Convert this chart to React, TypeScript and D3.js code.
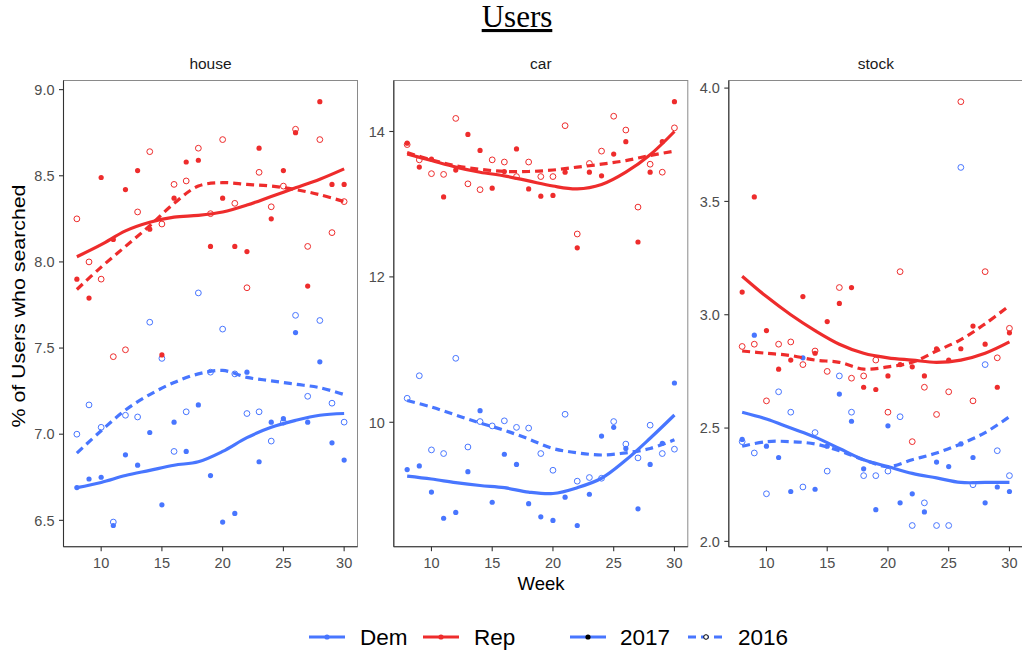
import React from "react";
import * as d3 from "d3";

// ---------- data ----------
const weeks = [8, 9, 10, 11, 12, 13, 14, 15, 16, 17, 18, 19, 20, 21, 22, 23, 24, 25, 26, 27, 28, 29, 30];
const smoothWeeks = [8, 10, 12, 14, 16, 18, 20, 22, 24, 26, 28, 30];
const xTicks = [10, 15, 20, 25, 30];

// house
const houseRep2017 = [7.90, 7.79, 8.49, 8.13, 8.42, 8.53, 8.19, 7.46, 8.37, 8.58, 8.59, 8.09, 8.37, 8.09, 8.06, 8.66, 8.25, 8.53, 8.75, 7.86, 8.93, 8.45, 8.45];
const houseRep2016 = [8.25, 8.00, 7.90, 7.45, 7.49, 8.29, 8.64, 8.22, 8.45, 8.47, 8.66, 8.28, 8.71, 8.34, 7.85, 8.52, 8.32, 8.44, 8.77, 8.09, 8.71, 8.17, 8.35];
const houseDem2017 = [6.69, 6.74, 6.75, 6.47, 6.88, 6.82, 7.01, 6.59, 7.07, 6.90, 7.17, 6.76, 6.49, 6.54, 7.36, 6.84, 7.07, 7.09, 7.59, 7.07, 7.42, 6.95, 6.85];
const houseDem2016 = [7.00, 7.17, 7.04, 6.49, 7.11, 7.10, 7.65, 7.44, 6.90, 7.13, 7.82, 7.36, 7.61, 7.35, 7.12, 7.13, 6.96, 7.07, 7.69, 7.22, 7.66, 7.18, 7.07];
const houseRep2017Smooth = [8.03, 8.10, 8.18, 8.23, 8.26, 8.27, 8.29, 8.33, 8.38, 8.43, 8.48, 8.54];
const houseRep2016Smooth = [7.84, 7.97, 8.09, 8.21, 8.34, 8.44, 8.46, 8.45, 8.44, 8.42, 8.39, 8.35];
const houseDem2017Smooth = [6.69, 6.72, 6.76, 6.79, 6.82, 6.84, 6.90, 6.98, 7.04, 7.08, 7.11, 7.12];
const houseDem2016Smooth = [6.89, 7.02, 7.14, 7.23, 7.30, 7.35, 7.37, 7.33, 7.31, 7.29, 7.27, 7.23];
const houseTicks = [6.5, 7.0, 7.5, 8.0, 8.5, 9.0];

// car
const carRep2017 = [13.84, 13.51, 13.62, 13.10, 13.47, 13.96, 13.74, 13.22, 13.45, 13.76, 13.21, 13.11, 13.12, 13.44, 12.40, 13.44, 13.39, 13.69, 13.86, 12.48, 13.44, 13.86, 14.41];
const carRep2016 = [13.82, 13.61, 13.42, 13.41, 14.18, 13.28, 13.20, 13.61, 13.58, 13.38, 13.58, 13.38, 13.38, 14.08, 12.59, 13.56, 13.73, 14.21, 14.02, 12.96, 13.55, 13.44, 14.05];
const carDem2017 = [9.35, 9.40, 9.04, 8.68, 8.76, 9.32, 10.16, 8.90, 9.56, 9.42, 8.88, 8.70, 8.65, 8.97, 8.58, 9.01, 9.81, 9.93, 9.64, 8.81, 9.42, 9.71, 10.54];
const carDem2016 = [10.33, 10.64, 9.62, 9.57, 10.88, 9.66, 10.01, 9.95, 10.02, 9.93, 9.92, 9.57, 9.34, 10.11, 9.19, 9.24, 9.23, 10.01, 9.70, 9.51, 9.96, 9.57, 9.63];
const carRep2017Smooth = [13.69, 13.60, 13.51, 13.44, 13.39, 13.32, 13.25, 13.21, 13.27, 13.44, 13.68, 14.00];
const carRep2016Smooth = [13.71, 13.61, 13.53, 13.48, 13.45, 13.45, 13.47, 13.51, 13.55, 13.60, 13.67, 13.73];
const carDem2017Smooth = [9.26, 9.22, 9.17, 9.13, 9.10, 9.04, 9.02, 9.10, 9.23, 9.48, 9.78, 10.10];
const carDem2016Smooth = [10.30, 10.21, 10.10, 9.99, 9.89, 9.77, 9.64, 9.58, 9.55, 9.58, 9.64, 9.76];
const carTicks = [10, 12, 14];

// stock
const stockRep2017 = [3.10, 3.52, 2.93, 2.76, 2.80, 3.08, 2.83, 2.97, 3.05, 3.12, 2.68, 2.67, 2.73, 2.78, 2.77, 2.73, 2.85, 2.80, 2.85, 2.95, 2.87, 2.68, 2.92];
const stockRep2016 = [2.86, 2.87, 2.62, 2.87, 2.88, 2.78, 2.84, 2.75, 3.12, 2.72, 2.73, 2.80, 2.57, 3.19, 2.44, 2.68, 2.56, 2.66, 3.94, 2.62, 3.19, 2.81, 2.94];
const stockDem2017 = [2.45, 2.91, 2.42, 2.37, 2.22, 2.81, 2.23, 2.42, 2.65, 2.53, 2.32, 2.14, 2.51, 2.17, 2.21, 2.13, 2.35, 2.33, 2.43, 2.37, 2.17, 2.24, 2.22];
const stockDem2016 = [2.44, 2.39, 2.21, 2.66, 2.57, 2.24, 2.48, 2.31, 2.73, 2.57, 2.29, 2.29, 2.31, 2.55, 2.07, 2.17, 2.07, 2.07, 3.65, 2.25, 2.78, 2.40, 2.29];
const stockRep2017Smooth = [3.17, 3.08, 3.00, 2.93, 2.87, 2.83, 2.81, 2.80, 2.79, 2.80, 2.83, 2.88];
const stockRep2016Smooth = [2.84, 2.83, 2.82, 2.80, 2.79, 2.76, 2.77, 2.79, 2.84, 2.89, 2.96, 3.04];
const stockDem2017Smooth = [2.57, 2.54, 2.50, 2.46, 2.41, 2.36, 2.33, 2.30, 2.28, 2.26, 2.26, 2.26];
const stockDem2016Smooth = [2.42, 2.44, 2.44, 2.43, 2.40, 2.36, 2.33, 2.36, 2.39, 2.43, 2.48, 2.55];
const stockTicks = [2.0, 2.5, 3.0, 3.5, 4.0];

const facetNames = ["house", "car", "stock"];
const partyNames = ["Dem", "Rep"];
const yearNames = ["2017", "2016"];

// ---------- styles ----------
const DEM = "#4876FF";
const REP = "#EE2C2C";
const SANS = "'Liberation Sans', Arial, Helvetica, sans-serif";
const SERIF = "'Liberation Serif', 'Times New Roman', serif";

const W = 1022;
const H = 656;
const PANEL_TOP = 80.5;
const PANEL_BOTTOM = 546.7;
const PANEL_W = 294;
const panelLefts = [63.5, 393.8, 728.8];

const facets = [
  { name: facetNames[0], ticks: houseTicks, fmt: d3.format(".1f"),
    series: [
      { party: "Dem", year: "2017", pts: houseDem2017, smooth: houseDem2017Smooth },
      { party: "Dem", year: "2016", pts: houseDem2016, smooth: houseDem2016Smooth },
      { party: "Rep", year: "2017", pts: houseRep2017, smooth: houseRep2017Smooth },
      { party: "Rep", year: "2016", pts: houseRep2016, smooth: houseRep2016Smooth },
    ] },
  { name: facetNames[1], ticks: carTicks, fmt: d3.format("d"),
    series: [
      { party: "Dem", year: "2017", pts: carDem2017, smooth: carDem2017Smooth },
      { party: "Dem", year: "2016", pts: carDem2016, smooth: carDem2016Smooth },
      { party: "Rep", year: "2017", pts: carRep2017, smooth: carRep2017Smooth },
      { party: "Rep", year: "2016", pts: carRep2016, smooth: carRep2016Smooth },
    ] },
  { name: facetNames[2], ticks: stockTicks, fmt: d3.format(".1f"),
    series: [
      { party: "Dem", year: "2017", pts: stockDem2017, smooth: stockDem2017Smooth },
      { party: "Dem", year: "2016", pts: stockDem2016, smooth: stockDem2016Smooth },
      { party: "Rep", year: "2017", pts: stockRep2017, smooth: stockRep2017Smooth },
      { party: "Rep", year: "2016", pts: stockRep2016, smooth: stockRep2016Smooth },
    ] },
];

const colorOf = (p: string) => (p === "Dem" ? DEM : REP);

function Panel({ facet, left }: { facet: any; left: number }) {
  const xDom = d3.extent(weeks) as [number, number];
  const xPad = (xDom[1] - xDom[0]) * 0.05;
  const x = d3.scaleLinear().domain([xDom[0] - xPad, xDom[1] + xPad]).range([left, left + PANEL_W]);
  const all = facet.series.flatMap((s: any) => s.pts);
  const [lo, hi] = d3.extent(all) as [number, number];
  const yPad = (hi - lo) * 0.05;
  const y = d3.scaleLinear().domain([lo - yPad, hi + yPad]).range([PANEL_BOTTOM, PANEL_TOP]);
  const line = d3.line<number>()
    .x((_, i) => x(smoothWeeks[i]))
    .y((d) => y(d))
    .curve(d3.curveCatmullRom.alpha(0.5));
  const axisColor = "#333333";
  const tickText = "#4d4d4d";
  return (
    <g>
      <rect x={left} y={PANEL_TOP} width={PANEL_W} height={PANEL_BOTTOM - PANEL_TOP}
        fill="white" stroke="#8a8a8a" strokeWidth={1} />
      <line x1={left} x2={left} y1={PANEL_TOP} y2={PANEL_BOTTOM} stroke={axisColor} strokeWidth={1.1} />
      <line x1={left} x2={left + PANEL_W} y1={PANEL_BOTTOM} y2={PANEL_BOTTOM} stroke={axisColor} strokeWidth={1.1} />
      {facet.ticks.map((t: number) => (
        <g key={"y" + t}>
          <line x1={left - 4.5} x2={left} y1={y(t)} y2={y(t)} stroke={axisColor} strokeWidth={1.1} />
          <text x={left - 9} y={y(t)} dy="0.36em" textAnchor="end" fontFamily={SANS} fontSize={14.5} fill={tickText}>
            {facet.fmt(t)}
          </text>
        </g>
      ))}
      {xTicks.map((t) => (
        <g key={"x" + t}>
          <line x1={x(t)} x2={x(t)} y1={PANEL_BOTTOM} y2={PANEL_BOTTOM + 4.5} stroke={axisColor} strokeWidth={1.1} />
          <text x={x(t)} y={568} textAnchor="middle" fontFamily={SANS} fontSize={14.5} fill={tickText}>
            {t}
          </text>
        </g>
      ))}
      <text x={left + PANEL_W / 2} y={69} textAnchor="middle" fontFamily={SANS} fontSize={15.5} fill="#1a1a1a">
        {facet.name}
      </text>
      {facet.series.map((s: any, si: number) =>
        s.pts.map((v: number, i: number) =>
          s.year === "2017" ? (
            <circle key={si + "-" + i} cx={x(weeks[i])} cy={y(v)} r={2.6} fill={colorOf(s.party)} />
          ) : (
            <circle key={si + "-" + i} cx={x(weeks[i])} cy={y(v)} r={2.9} fill="none"
              stroke={colorOf(s.party)} strokeWidth={1} />
          )
        )
      )}
      {facet.series.map((s: any, si: number) => (
        <path key={"l" + si} d={line(s.smooth) || ""} fill="none" stroke={colorOf(s.party)}
          strokeWidth={3.2} strokeDasharray={s.year === "2016" ? "8 5" : undefined} />
      ))}
    </g>
  );
}

export default function App() {
  const legendY = 637;
  const legendItems = [
    { kind: "party", label: partyNames[0], color: DEM, x0: 309, tx: 360 },
    { kind: "party", label: partyNames[1], color: REP, x0: 423, tx: 474 },
    { kind: "year", label: yearNames[0], color: DEM, x0: 570, tx: 620 },
    { kind: "year", label: yearNames[1], color: DEM, x0: 688, tx: 738 },
  ];
  return (
    <div style={{ position: "fixed", left: 0, top: 0, width: W, height: H, overflow: "hidden" }}>
      <svg width={W} height={H} style={{ display: "block", background: "white" }}>
        <rect x={0} y={0} width={W} height={H} fill="white" />
        <text x={517} y={27} textAnchor="middle" fontFamily={SERIF} fontSize={31} fill="#000"
          textDecoration="underline">
          Users
        </text>
        {facets.map((f, i) => (
          <Panel key={f.name} facet={f} left={panelLefts[i]} />
        ))}
        <text transform={`translate(25,306) rotate(-90)`} textAnchor="middle"
          fontFamily={SANS} fontSize={19} fill="#000" textLength={243} lengthAdjust="spacingAndGlyphs">
          % of Users who searched
        </text>
        <text x={541} y={590} textAnchor="middle" fontFamily={SANS} fontSize={18.5} fill="#000">
          Week
        </text>
        {legendItems.map((it) => (
          <g key={it.label}>
            <line x1={it.x0} x2={it.x0 + 36} y1={legendY} y2={legendY} stroke={it.color} strokeWidth={3.2}
              strokeDasharray={it.label === "2016" ? "8 5" : undefined} />
            {it.kind === "party" ? (
              <circle cx={it.x0 + 18} cy={legendY} r={2.6} fill={it.color} />
            ) : it.label === "2017" ? (
              <circle cx={it.x0 + 18} cy={legendY} r={2.6} fill="#000" />
            ) : (
              <circle cx={it.x0 + 18} cy={legendY} r={2.3} fill="white" stroke="#000" strokeWidth={1} />
            )}
            <text x={it.tx} y={legendY} dy="0.36em" fontFamily={SANS} fontSize={22.5} fill="#000">
              {it.label}
            </text>
          </g>
        ))}
      </svg>
    </div>
  );
}
